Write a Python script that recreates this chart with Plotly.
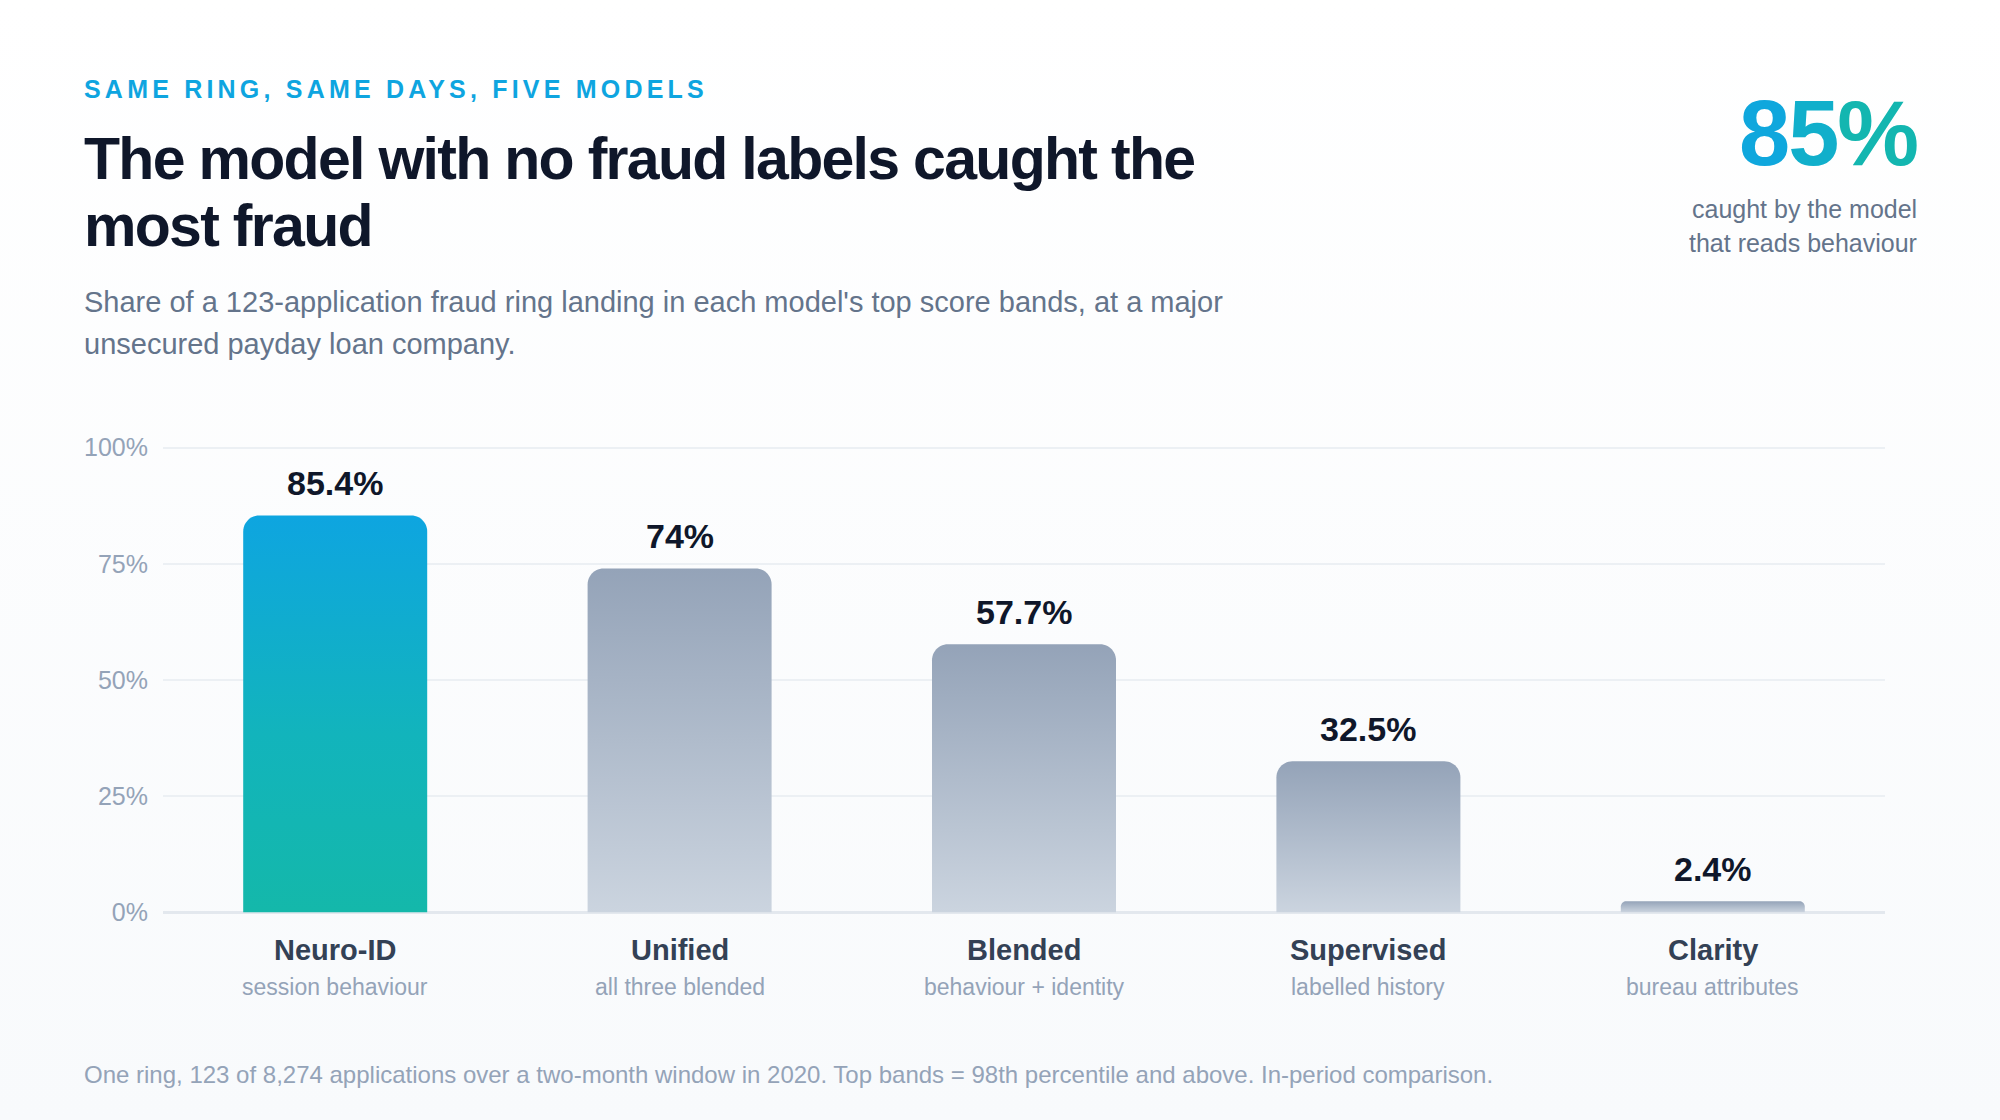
import base64

import numpy as np
import plotly.graph_objects as go

# ------------------------------
# Data
# ------------------------------

models = ["Neuro-ID", "Unified", "Blended", "Supervised", "Clarity"]
model_notes = ["session behaviour", "all three blended", "behaviour + identity",
               "labelled history", "bureau attributes"]
caught_pct = [85.4, 74.0, 57.7, 32.5, 2.4]
value_labels = ["85.4%", "74%", "57.7%", "32.5%", "2.4%"]
y_ticks = [0, 25, 50, 75, 100]
y_tick_labels = ["0%", "25%", "50%", "75%", "100%"]
headline = "85%"

EYEBROW = "SAME RING, SAME DAYS, FIVE MODELS"
TITLE_LINES = ["The model with no fraud labels caught the", "most fraud"]
SUBTITLE_LINES = ["Share of a 123-application fraud ring landing in each model's top score bands, at a major",
                  "unsecured payday loan company."]
HEADLINE_NOTE = ["caught by the model", "that reads behaviour"]
FOOTNOTE = ("One ring, 123 of 8,274 applications over a two-month window in 2020. "
            "Top bands = 98th percentile and above. In-period comparison.")

# ------------------------------
# Geometry / style
# ------------------------------

W, H = 2000, 1120
ZERO_PX, HUNDRED_PX = 912, 448          # pixel rows of 0% and 100%
PLOT_L, PLOT_R = 163, 1885
px_per_y = (ZERO_PX - HUNDRED_PX) / 100
Y_PAD = 1.0                              # keep the 0% / 100% gridlines off the edges
Y_RANGE = [-Y_PAD, 100 + Y_PAD]
PLOT_T = HUNDRED_PX - Y_PAD * px_per_y
PLOT_B = ZERO_PX + Y_PAD * px_per_y
plot_w = PLOT_R - PLOT_L
plot_h = PLOT_B - PLOT_T
X_RANGE = [-0.5, len(models) - 0.5]
px_per_x = plot_w / (X_RANGE[1] - X_RANGE[0])

BAR_W_PX = 184
RADIUS_PX = 16

FONT = "Liberation Sans, Arial, Helvetica, sans-serif"
INK = "#0F172A"
SLATE = "#64748B"
MUTED = "#94A3B8"
LABEL = "#334155"
SKY = "#0EA5E0"
TEAL = "#14B8AA"
GREY_TOP = "#94A3B8"
GREY_BOTTOM = "#CBD4DF"


def paper_x(px):
    return (px - PLOT_L) / plot_w


def paper_y(py):
    return (PLOT_B - py) / plot_h


def bar_outline(xc, v):
    # rounded-top bar outline, radius given in pixels
    half = BAR_W_PX / 2 / px_per_x
    r = min(RADIUS_PX, v * px_per_y / 2)
    rx, ry = r / px_per_x, r / px_per_y
    t = np.linspace(0, np.pi / 2, 14)
    lx = xc - half + rx - rx * np.cos(t)
    ly = v - ry + ry * np.sin(t)
    rxs = xc + half - rx + rx * np.sin(t)
    rys = v - ry + ry * np.cos(t)
    xs = [xc - half, *lx, *rxs, xc + half, xc - half]
    ys = [0, *ly, *rys, 0, 0]
    return xs, ys


# soft white-to-grey page background
bg_svg = (
    '<svg xmlns="http://www.w3.org/2000/svg" width="10" height="100" preserveAspectRatio="none">'
    '<defs><linearGradient id="g" x1="0" y1="0" x2="0" y2="1">'
    '<stop offset="0" stop-color="#FFFFFF"/><stop offset="1" stop-color="#F8FAFC"/>'
    '</linearGradient></defs><rect width="10" height="100" fill="url(#g)"/></svg>'
)
bg_uri = "data:image/svg+xml;base64," + base64.b64encode(bg_svg.encode()).decode()

# ------------------------------
# Bars
# ------------------------------

fig = go.Figure()

for i, v in enumerate(caught_pct):
    xs, ys = bar_outline(i, v)
    if i == 0:
        scale = [[0, TEAL], [0.45, "#12B4BC"], [1, SKY]]
    else:
        scale = [[0, GREY_BOTTOM], [1, GREY_TOP]]
    fig.add_trace(go.Scatter(
        x=xs, y=ys, mode="none", fill="toself",
        fillcolor=GREY_TOP if i else SKY,
        fillgradient=dict(type="vertical", colorscale=scale),
        hoverinfo="skip", showlegend=False,
    ))

# ------------------------------
# Annotations
# ------------------------------

ann = []

for i, (v, lab) in enumerate(zip(caught_pct, value_labels)):
    ann.append(dict(x=i, y=v, xref="x", yref="y", text=lab, showarrow=False,
                    xanchor="center", yanchor="bottom", yshift=11,
                    font=dict(size=34, color=INK, weight=700)))

for i, (name, note) in enumerate(zip(models, model_notes)):
    ann.append(dict(x=i, y=0, xref="x", yref="y", text=name, showarrow=False,
                    xanchor="center", yanchor="middle", yshift=-38,
                    font=dict(size=29, color=LABEL, weight=700)))
    ann.append(dict(x=i, y=0, xref="x", yref="y", text=note, showarrow=False,
                    xanchor="center", yanchor="middle", yshift=-75,
                    font=dict(size=23, color=MUTED)))

LEFT = paper_x(82)
RIGHT = paper_x(1919)

ann.append(dict(x=LEFT, y=paper_y(90), xref="paper", yref="paper",
                text=f'<span style="letter-spacing:4.2px">{EYEBROW}</span>',
                showarrow=False, xanchor="left", yanchor="middle",
                font=dict(size=25, color=SKY, weight=700)))

for line, cy in zip(TITLE_LINES, [160, 227]):
    ann.append(dict(x=LEFT, y=paper_y(cy), xref="paper", yref="paper",
                    text=f'<span style="letter-spacing:-1.7px">{line}</span>',
                    showarrow=False, xanchor="left", yanchor="middle",
                    font=dict(size=59, color=INK, weight=700)))

for line, cy in zip(SUBTITLE_LINES, [303, 345]):
    ann.append(dict(x=LEFT, y=paper_y(cy), xref="paper", yref="paper", text=line,
                    showarrow=False, xanchor="left", yanchor="middle",
                    font=dict(size=29, color=SLATE)))

# headline number, coloured per character to mimic the sky-to-teal gradient
head_colors = ["#0FA7DD", "#11AFCB", "#13B6B0"]
head_text = "".join(f'<span style="color:{c}">{ch}</span>'
                    for ch, c in zip(headline, head_colors))
ann.append(dict(x=RIGHT, y=paper_y(134), xref="paper", yref="paper",
                text=f'<span style="letter-spacing:-2px">{head_text}</span>',
                showarrow=False, xanchor="right", yanchor="middle",
                font=dict(size=92, color=SKY, weight=700)))

for line, cy in zip(HEADLINE_NOTE, [210, 244]):
    ann.append(dict(x=RIGHT, y=paper_y(cy), xref="paper", yref="paper", text=line,
                    showarrow=False, xanchor="right", yanchor="middle",
                    font=dict(size=25, color=SLATE)))

ann.append(dict(x=LEFT, y=paper_y(1074), xref="paper", yref="paper", text=FOOTNOTE,
                showarrow=False, xanchor="left", yanchor="middle",
                font=dict(size=24, color=MUTED)))

# ------------------------------
# Layout
# ------------------------------

fig.update_layout(
    width=W, height=H,
    margin=dict(l=PLOT_L, r=W - PLOT_R, t=PLOT_T, b=H - PLOT_B, pad=0),
    paper_bgcolor="#F8FAFC",
    plot_bgcolor="rgba(0,0,0,0)",
    font=dict(family=FONT, color=INK),
    showlegend=False,
    annotations=ann,
    images=[dict(source=bg_uri, xref="paper", yref="paper",
                 x=paper_x(0), y=paper_y(0), sizex=W / plot_w, sizey=H / plot_h,
                 xanchor="left", yanchor="top", sizing="stretch", layer="below")],
    xaxis=dict(range=X_RANGE, visible=False, fixedrange=True),
    yaxis=dict(
        range=Y_RANGE, tickvals=y_ticks, ticktext=y_tick_labels,
        showgrid=True, gridcolor="#ECF0F4", gridwidth=1.5,
        zeroline=True, zerolinecolor="#E3E8EE", zerolinewidth=2.5,
        showline=False, ticks="",
        ticklabelstandoff=14,
        tickfont=dict(size=25, color=MUTED),
        fixedrange=True,
    ),
)

fig.write_html("out.html", config={"displayModeBar": False},
               post_script="document.body.style.margin='0';")
